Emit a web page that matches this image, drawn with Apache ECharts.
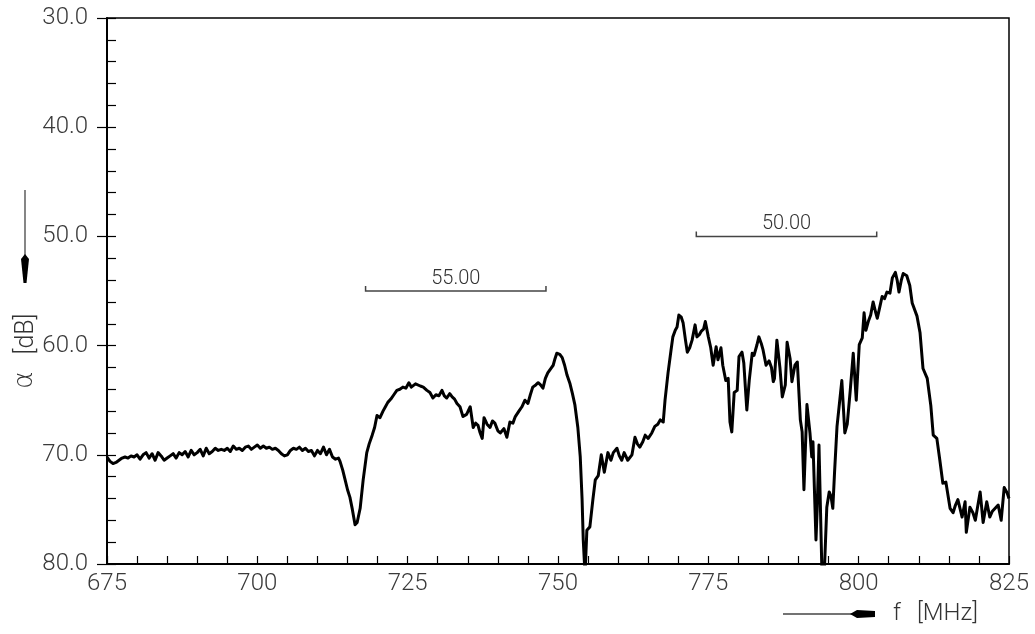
<!DOCTYPE html>
<html>
<head>
<meta charset="utf-8">
<script src="https://cdn.jsdelivr.net/npm/echarts@6/dist/echarts.min.js"></script>
<style>
html,body{margin:0;padding:0;background:#fff;}
#chart{width:1035px;height:634px;}
</style>
</head>
<body>
<div id="chart"></div>
<script>
// Frequency (MHz)
var freq = [
675.0,675.5,676.0,676.5,677.0,677.5,678.0,678.5,679.0,679.5,680.0,680.5,681.0,681.5,682.0,682.5,683.0,683.5,684.0,684.5,
685.0,685.5,686.0,686.5,687.0,687.5,688.0,688.5,689.0,689.5,690.0,690.5,691.0,691.5,692.0,692.5,693.0,693.5,694.0,694.5,
695.0,695.5,696.0,696.5,697.0,697.5,698.0,698.5,699.0,699.5,700.0,700.5,701.0,701.5,702.0,702.5,703.0,703.5,704.0,704.5,
705.0,705.5,706.0,706.5,707.0,707.5,708.0,708.5,709.0,709.5,710.0,710.5,711.0,711.5,712.0,712.5,713.0,713.5,713.75,714.2,
714.6,715.0,715.4,715.8,716.25,716.6,717.1,717.6,718.2,718.6,719.1,719.5,719.9,720.4,720.9,721.3,721.7,722.2,722.7,723.2,
723.7,724.2,724.7,725.2,725.6,725.9,726.3,726.6,727.1,727.6,728.2,728.7,729.2,729.7,730.2,730.7,731.1,731.5,732.0,732.4,
732.8,733.2,733.7,734.2,734.8,735.4,735.9,736.3,736.7,737.0,737.4,737.7,738.2,738.7,739.1,739.5,740.0,740.4,741.0,741.5,
742.0,742.5,742.9,743.5,744.0,744.5,745.0,745.4,745.8,746.3,746.7,747.1,747.5,747.9,748.3,748.8,749.2,749.5,749.8,750.3,
750.7,751.1,751.5,752.0,752.4,752.8,753.3,753.7,754.0,754.2,754.5,754.8,755.3,755.8,756.2,756.7,757.2,757.7,758.3,758.8,
759.2,759.8,760.2,760.6,761.0,761.6,762.3,762.8,763.2,763.6,764.1,764.5,765.0,765.6,766.1,766.6,767.0,767.5,767.8,768.3,
768.8,769.1,769.5,769.8,770.1,770.5,770.8,771.2,771.5,771.9,772.3,772.8,773.1,773.5,773.8,774.2,774.5,775.0,775.4,775.8,
776.3,776.6,777.1,777.4,777.9,778.3,778.6,778.9,779.3,779.8,780.1,780.6,780.9,781.4,781.8,782.3,782.6,783.1,783.4,783.8,
784.1,784.6,785.1,785.5,785.8,786.0,786.4,786.9,787.3,787.8,788.1,788.6,788.9,789.4,789.8,790.3,790.6,790.9,791.4,791.9,
792.2,792.4,792.9,793.1,793.4,793.9,794.2,794.7,795.1,795.4,795.7,796.0,796.4,797.2,797.7,798.1,798.6,799.1,799.6,800.1,
800.6,800.9,801.2,801.6,802.0,802.4,802.8,803.1,803.5,803.9,804.3,804.7,805.2,805.6,806.1,806.4,806.7,807.1,807.4,808.0,
808.5,808.9,809.2,809.7,810.2,810.7,811.4,812.0,812.4,813.0,813.5,814.0,814.5,815.2,815.7,816.1,816.5,817.2,817.7,817.9,
818.5,819.0,819.4,820.2,820.7,821.3,821.8,822.2,822.7,823.2,823.7,824.2,824.7,825.0
];
// Attenuation alpha (dB)
var atten = [
70.2,70.6,70.8,70.7,70.5,70.3,70.2,70.3,70.1,70.2,70.0,70.4,70.0,69.8,70.3,69.9,70.5,69.8,70.1,70.5,
70.3,70.1,69.9,70.3,69.8,70.0,69.7,70.2,69.6,70.0,69.8,69.5,70.1,69.4,69.9,69.7,69.4,69.6,69.5,69.6,
69.4,69.7,69.2,69.5,69.4,69.6,69.3,69.2,69.5,69.3,69.1,69.4,69.2,69.4,69.3,69.5,69.4,69.6,69.9,70.1,
70.0,69.6,69.4,69.5,69.3,69.6,69.4,69.7,69.6,70.1,69.6,69.9,69.3,70.0,69.5,70.2,70.4,70.3,70.6,71.4,
72.3,73.2,73.9,75.0,76.4,76.2,74.9,72.3,69.8,69.0,68.2,67.5,66.4,66.6,66.0,65.6,65.2,64.9,64.5,64.1,
64.0,63.8,63.9,63.4,63.8,63.7,63.5,63.4,63.7,63.8,64.1,64.3,64.8,64.5,64.6,64.1,64.6,64.8,64.4,64.7,
64.9,65.3,65.6,66.5,66.3,65.6,67.5,67.1,67.3,67.9,68.5,66.6,67.2,67.5,66.9,67.1,67.8,68.0,67.6,68.4,
67.0,67.1,66.5,66.0,65.6,65.0,65.3,64.5,63.8,63.6,63.4,63.6,63.9,63.0,62.5,62.1,61.8,61.2,60.7,60.8,
61.1,61.8,62.7,63.5,64.4,65.4,67.5,70.2,74.0,77.8,81.0,76.9,76.6,74.1,72.3,71.9,70.0,71.6,69.8,70.5,
69.8,69.4,70.1,70.5,69.8,70.5,70.0,68.4,69.0,69.3,68.8,68.2,68.5,68.0,67.4,67.2,66.8,67.0,65.0,62.5,
60.4,59.2,58.6,58.3,57.2,57.4,57.9,59.5,60.6,60.2,59.5,58.1,59.2,59.0,58.7,58.5,57.8,59.2,60.2,61.8,
60.1,61.3,60.2,61.8,63.2,63.0,67.0,67.9,64.3,64.1,61.0,60.6,61.6,65.9,63.2,60.7,60.9,59.9,59.2,59.8,
60.4,61.8,61.4,62.0,63.3,63.0,59.5,62.0,64.7,63.6,59.7,61.2,63.3,61.8,61.5,66.8,67.9,73.2,65.4,68.0,
70.2,68.8,77.8,75.0,69.1,81.0,82.0,74.8,73.4,73.8,74.9,71.5,67.4,63.2,68.0,67.2,64.1,60.7,65.0,59.9,
59.3,57.0,58.6,57.8,57.2,56.0,56.9,57.5,56.5,55.5,55.7,55.1,55.2,53.8,53.3,54.0,55.1,54.0,53.4,53.6,
54.5,56.1,56.2,57.3,58.8,62.1,63.0,65.5,68.2,68.5,70.5,72.6,72.5,74.9,75.3,74.6,74.1,75.7,74.3,77.1,
74.8,75.3,76.0,73.4,76.2,74.3,75.7,75.2,74.9,74.6,76.0,73.0,73.5,74.0
];
// Bandwidth brackets: start freq, end freq, level (dB), label
var bracketStart = [718, 773];
var bracketEnd = [748, 803];
var bracketLevel = [55, 50];
var bracketLabel = ['55.00', '50.00'];
// Axis tick values
var yTicks = [30, 40, 50, 60, 70, 80];
var xTicks = [675, 700, 725, 750, 775, 800, 825];

var FONT = 'Roboto';
var lineData = freq.map(function (f, i) { return [f, atten[i]]; });
var bracketData = bracketStart.map(function (s, i) { return [s, bracketEnd[i], bracketLevel[i], bracketLabel[i]]; });

var chart = echarts.init(document.getElementById('chart'), null, { renderer: 'canvas' });
var labelStyle = { fontFamily: FONT, fontWeight: 300, fontSize: 24, color: '#3a3a3a' };

chart.setOption({
  animation: false,
  backgroundColor: '#fff',
  grid: { left: 107, right: 26, top: 18, bottom: 70, show: true, borderColor: '#000', borderWidth: 1.5, backgroundColor: 'transparent' },
  xAxis: [{
    type: 'value', min: xTicks[0], max: xTicks[xTicks.length - 1], interval: 5,
    axisLine: { show: true, onZero: false, lineStyle: { color: '#000', width: 2 } },
    axisTick: { show: true, inside: true, length: 8, lineStyle: { color: '#000', width: 1.2 } },
    axisLabel: Object.assign({ margin: 8, formatter: function (v) { return xTicks.indexOf(v) >= 0 ? String(v) : ''; } }, labelStyle),
    splitLine: { show: false }
  }],
  yAxis: [{
    type: 'value', inverse: true, min: yTicks[0], max: yTicks[yTicks.length - 1], interval: 10,
    axisLine: { show: true, onZero: false, lineStyle: { color: '#000', width: 2 } },
    axisTick: { show: true, inside: true, length: 9, lineStyle: { color: '#000', width: 1.2 } },
    minorTick: { show: true, splitNumber: 5, length: 9, lineStyle: { color: '#000', width: 1.2 } },
    axisLabel: Object.assign({ margin: 19, formatter: function (v) { return v.toFixed(1); } }, labelStyle),
    splitLine: { show: false }
  }, {
    type: 'value', inverse: true, min: yTicks[0], max: yTicks[yTicks.length - 1], interval: 10, position: 'left',
    axisLine: { show: false },
    axisTick: { show: true, inside: false, length: 10, lineStyle: { color: '#000', width: 1.2 } },
    axisLabel: { show: false },
    splitLine: { show: false }
  }],
  series: [{
    type: 'line',
    data: lineData,
    showSymbol: false,
    clip: true,
    lineStyle: { color: '#000', width: 3, join: 'round' },
    z: 5
  }, {
    type: 'custom',
    data: bracketData,
    clip: false,
    renderItem: function (params, api) {
      var p1 = api.coord([api.value(0), api.value(2)]);
      var p2 = api.coord([api.value(1), api.value(2)]);
      var lbl = bracketLabel[params.dataIndex];
      return {
        type: 'group',
        children: [{
          type: 'polyline',
          shape: { points: [[p1[0], p1[1] - 5], [p1[0], p1[1]], [p2[0], p1[1]], [p2[0], p2[1] - 5]] },
          style: { stroke: '#444', lineWidth: 1.5, fill: null }
        }, {
          type: 'text',
          x: (p1[0] + p2[0]) / 2, y: p1[1] - 12,
          style: { text: lbl, fontFamily: FONT, fontWeight: 300, fontSize: 20, fill: '#333', align: 'center', verticalAlign: 'middle' }
        }]
      };
    }
  }],
  graphic: [
    { type: 'line', shape: { x1: 25, y1: 190, x2: 25, y2: 260 }, style: { stroke: '#444', lineWidth: 1.3 } },
    { type: 'polygon', shape: { points: [[25, 254], [21, 259], [23.5, 283], [26.5, 283], [29, 259]] }, style: { fill: '#000' } },
    { type: 'text', x: 25, y: 380, rotation: Math.PI / 2, style: { text: 'α', fontFamily: 'DejaVu Sans', fontWeight: 200, fontSize: 27, fill: '#333', align: 'center', verticalAlign: 'middle' } },
    { type: 'text', x: 27, y: 334, rotation: Math.PI / 2, style: { text: '[dB]', fontFamily: FONT, fontWeight: 300, fontSize: 25, fill: '#333', align: 'center', verticalAlign: 'middle' } },
    { type: 'line', shape: { x1: 783, y1: 614, x2: 855, y2: 614 }, style: { stroke: '#444', lineWidth: 1.3 } },
    { type: 'polygon', shape: { points: [[850, 614], [857, 610], [875, 611], [875, 617], [857, 618]] }, style: { fill: '#000' } },
    { type: 'text', x: 893, y: 614, style: { text: 'f', fontFamily: FONT, fontWeight: 300, fontSize: 24, fill: '#333', align: 'left', verticalAlign: 'middle' } },
    { type: 'text', x: 917, y: 614, style: { text: '[MHz]', fontFamily: FONT, fontWeight: 300, fontSize: 24, fill: '#333', align: 'left', verticalAlign: 'middle' } }
  ]
});
</script>
</body>
</html>
